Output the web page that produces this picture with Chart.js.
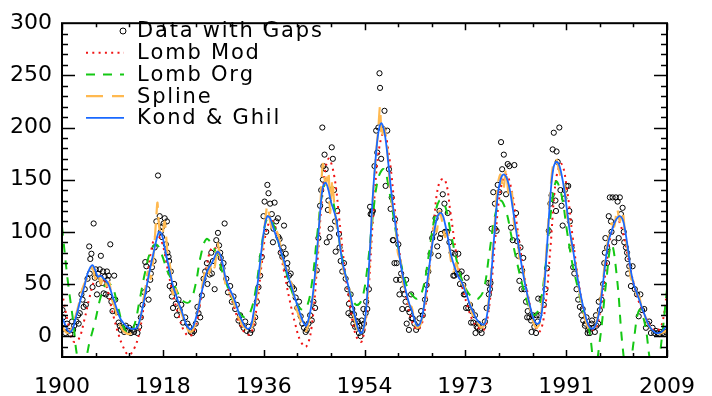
<!DOCTYPE html>
<html>
<head>
<meta charset="utf-8">
<script src="https://cdn.jsdelivr.net/npm/chart.js@4.4.1/dist/chart.umd.min.js"></script>
<style>
  html, body { margin: 0; padding: 0; background: #fff; }
  #wrap { width: 712px; height: 396px; }
</style>
</head>
<body>
<div id="wrap"><canvas id="sunChart" width="712" height="396"></canvas></div>
<script>
'use strict'

//++++++++++++++ Data ++++++++++++++//
let xTickValues = [1900, 1918.17, 1936.33, 1954.5, 1972.67, 1990.83, 2009];
let xTickLabels = ['1900', '1918', '1936', '1954', '1973', '1991', '2009'];
let yTickValues = [0, 50, 100, 150, 200, 250, 300];

let seriesNames = ['Data with Gaps', 'Lomb Mod', 'Lomb Org', 'Spline', 'Kond & Ghil'];

// observed values (year, value) with gaps
let gapPoints = [
  [1900.1,25],[1900.2,18],[1900.4,8],[1900.6,3],[1900.9,12],[1901.2,5],[1901.5,2],[1901.8,14],[1902.0,6],[1902.2,10],
  [1902.6,14],[1902.9,20],[1903.0,12],
  [1903.2,22],[1903.5,40],[1903.7,35],[1903.9,28],[1904.1,45],[1904.3,30],[1904.6,55],[1904.9,86],[1905.0,60],[1905.1,74],[1905.3,79],
  [1905.5,47],[1905.7,108],[1905.9,56],[1906.1,64],[1906.3,40],[1906.5,60],[1906.6,50],[1906.8,64],[1907.0,77],[1907.1,55],[1907.3,51],
  [1907.4,62],[1907.5,41],[1907.7,57],[1907.9,40],[1908.1,62],[1908.2,54],[1908.4,58],[1908.5,38],[1908.7,88],[1908.9,33],[1909.1,24],[1909.4,58],[1909.6,35],
  [1909.9,23],[1910.2,13],[1910.4,10],[1910.6,6],[1910.9,8],[1911.2,4],[1911.5,10],[1911.8,5],[1912.1,8],[1912.4,3],
  [1912.7,6],[1913.0,4],[1913.3,9],[1913.6,3],[1913.9,9],[1914.2,18],[1914.5,30],
  [1914.8,42],[1915.0,71],[1915.2,67],[1915.4,45],[1915.6,35],[1915.9,54],[1916.0,60],[1916.2,66],[1916.5,72],[1916.7,85],[1917.0,110],
  [1917.3,154],[1917.6,115],[1917.8,100],[1918.0,95],[1918.1,105],[1918.3,108],[1918.5,113],[1918.7,88],[1918.9,110],[1919.0,80],[1919.2,76],[1919.3,72],
  [1919.4,48],[1919.6,62],[1919.8,38],[1919.9,45],[1920.0,27],[1920.2,50],[1920.3,42],[1920.5,31],[1920.7,20],[1921.0,35],[1921.2,25],[1921.5,30],
  [1921.8,13],[1922.2,18],[1922.6,12],[1922.9,9],[1923.2,4],[1923.5,3],[1923.8,5],[1924.1,12],[1924.4,28],[1924.6,22],
  [1924.9,18],[1925.2,39],[1925.5,55],[1925.8,62],[1926.1,70],[1926.2,50],[1926.4,64],[1926.6,59],[1926.9,80],[1927.0,60],[1927.2,72],[1927.5,45],
  [1927.8,92],[1928.1,99],[1928.3,87],[1928.5,80],[1928.6,75],[1928.9,65],[1929.1,70],[1929.3,108],[1929.6,55],[1929.9,42],[1930.3,48],[1930.6,33],
  [1930.9,38],[1931.2,26],[1931.5,30],[1931.8,15],[1932.1,20],[1932.4,11],[1932.7,8],[1933.0,14],[1933.3,5],[1933.6,9],
  [1933.9,3],[1934.2,6],[1934.5,12],[1934.8,18],
  [1935.1,33],[1935.4,47],[1935.7,58],[1936.0,76],[1936.3,115],[1936.5,129],[1936.8,100],[1937.0,145],[1937.2,137],[1937.5,127],
  [1937.8,117],[1938.0,90],[1938.1,103],[1938.3,128],[1938.6,110],[1938.9,113],[1939.0,95],[1939.2,93],[1939.4,80],[1939.7,76],[1939.9,85],[1940.0,106],[1940.3,79],
  [1940.5,65],[1940.6,70],[1940.9,58],[1941.0,50],[1941.2,60],[1941.5,47],[1941.8,45],[1942.1,37],[1942.4,27],[1942.7,33],[1943.0,19],[1943.3,12],
  [1943.6,8],[1943.9,4],[1944.1,6],[1944.4,12],[1944.7,20],[1945.0,15],
  [1945.3,33],[1945.6,27],[1945.9,63],[1946.2,94],[1946.5,125],[1946.7,140],[1946.9,200],[1947.0,150],[1947.1,163],[1947.3,174],[1947.5,160],[1947.7,90],
  [1947.9,121],[1948.0,130],[1948.2,95],[1948.4,103],[1948.6,181],[1948.8,170],[1949.0,140],[1949.2,110],[1949.3,81],[1949.6,120],[1949.9,98],[1950.0,85],[1950.2,72],
  [1950.5,62],[1950.8,70],[1951.1,55],[1951.4,45],[1951.6,22],[1951.7,31],[1952.0,40],[1952.1,20],[1952.3,26],[1952.5,12],[1952.6,21],[1952.8,9],[1952.9,15],[1953.2,9],
  [1953.3,14],[1953.5,3],[1953.6,10],[1953.8,0],[1954.0,15],[1954.1,5],[1954.3,26],[1954.4,12],[1954.7,22],[1954.8,33],
  [1955.0,26],[1955.3,45],[1955.5,124],[1955.6,117],[1955.8,117],[1955.9,120],[1956.0,120],[1956.3,163],[1956.6,197],[1956.8,176],[1957.0,200],[1957.2,252],
  [1957.3,238],[1957.5,170],[1957.7,199],[1957.9,198],[1958.1,216],[1958.3,144],[1958.6,197],[1958.9,160],[1959.2,122],[1959.4,133],
  [1959.6,92],[1959.7,92],[1959.9,70],[1960.0,112],[1960.2,54],[1960.3,70],[1960.6,88],[1960.8,40],[1960.9,54],[1961.1,60],[1961.3,26],[1961.4,45],[1961.7,40],
  [1961.9,33],[1962.0,54],[1962.1,12],[1962.3,26],[1962.5,6],
  [1962.6,23],[1962.9,40],[1963.0,17],[1963.2,17],[1963.5,12],[1963.8,6],[1964.1,9],[1964.4,17],[1964.7,24],
  [1965.0,20],[1965.4,35],[1965.7,49],[1966.0,62],[1966.4,79],[1966.7,94],[1967.0,99],[1967.3,113],[1967.6,86],[1967.8,77],[1968.0,120],
  [1968.1,94],[1968.3,98],[1968.6,136],[1968.9,127],[1969.0,100],[1969.2,100],[1969.4,100],[1969.5,118],[1969.8,90],[1970.2,80],[1970.5,58],[1970.7,58],[1970.8,79],[1971.1,60],
  [1971.4,79],[1971.6,60],[1971.7,50],[1972.0,62],[1972.3,49],[1972.4,40],[1972.6,40],[1972.8,27],[1972.9,56],[1973.2,27],[1973.5,30],[1973.7,13],[1973.8,24],[1974.1,13],
  [1974.4,20],[1974.5,3],[1974.7,9],[1974.9,8],[1975.0,12],[1975.3,6],[1975.6,3],[1975.9,9],[1976.2,14],
  [1976.5,27],[1976.8,51],[1976.9,40],[1977.1,45],[1977.2,51],[1977.4,103],[1977.7,138],[1978.0,127],[1978.0,103],[1978.3,101],[1978.5,145],[1978.8,138],[1979.1,186],
  [1979.3,160],[1979.6,174],[1980.0,136],[1980.3,165],[1980.6,163],[1980.9,104],[1981.2,92],[1981.5,164],[1981.8,118],[1982.0,91],
  [1982.2,77],[1982.4,53],[1982.6,85],[1982.8,45],[1982.9,63],[1983.1,75],[1983.3,45],[1983.6,33],[1983.8,18],[1983.9,24],[1984.2,18],[1984.5,15],
  [1984.6,4],[1984.8,20],[1985.1,9],[1985.4,3],[1985.5,20],[1985.7,14],[1985.8,36],[1986.0,20],[1986.4,36],
  [1986.8,30],[1987.1,45],[1987.4,65],[1987.7,101],[1988.0,127],[1988.2,135],[1988.4,179],[1988.6,195],[1988.9,130],[1989.0,120],[1989.1,177],
  [1989.3,167],[1989.6,200],[1989.8,140],[1990.0,125],[1990.2,106],[1990.5,132],[1990.6,140],[1990.9,144],[1991.2,144],[1991.4,120],[1991.5,110],[1991.8,85],
  [1992.1,66],[1992.3,60],[1992.7,45],[1993.0,35],[1993.3,28],[1993.6,20],[1993.8,26],[1993.9,15],[1994.2,10],[1994.3,12],[1994.5,18],[1994.7,3],[1994.8,6],
  [1995.0,8],[1995.1,3],[1995.4,12],[1995.5,15],[1995.7,8],[1996.0,4],[1996.2,20],[1996.3,10],[1996.6,12],[1996.7,33],
  [1996.9,25],[1997.2,35],[1997.5,50],[1997.7,70],[1997.8,80],[1997.9,94],[1998.2,85],[1998.2,70],[1998.5,115],[1998.7,133],[1998.9,110],[1999.0,100],[1999.2,133],
  [1999.5,90],[1999.8,133],[2000.1,129],[2000.3,94],[2000.5,133],[2000.7,117],[2001.0,123],[2001.2,100],[2001.3,90],[2001.6,85],[2001.8,80],[2001.9,74],
  [2002.0,60],[2002.2,67],[2002.5,48],[2002.8,67],[2003.2,45],[2003.6,40],[2003.9,19],[2004.2,40],[2004.5,25],[2004.9,26],[2005.2,8],
  [2005.5,12],[2005.8,14],[2006.1,3],[2006.4,8],[2006.7,3],[2007.0,5],[2007.3,3],[2007.6,2],[2007.9,4],[2008.2,3],
  [2008.5,2],[2008.8,4]
];

// Lomb Mod, one value per year from 1900
let lombModValues = [
  42, 15, -5, -3, 15, 38, 55, 58, 48, 25,
  5, -10, -18, -12, 5, 40, 80, 97, 90, 65,
  40, 20, 5, 0, 8, 35, 65, 85, 82, 65,
  45, 28, 12, 3, 2, 25, 70, 105, 110, 90,
  62, 35, 12, -5, -10, 10, 70, 140, 170, 155,
  110, 62, 25, 0, -5, 30, 110, 175, 195, 170,
  120, 72, 38, 15, 6, 15, 55, 110, 148, 150,
  118, 80, 50, 30, 15, 8, 6, 30, 90, 140,
  155, 140, 105, 68, 38, 15, 4, 25, 85, 150,
  165, 140, 95, 55, 25, 10, 6, 25, 65, 100,
  112, 100, 75, 50, 32, 20, 10, 5, 10, 42
];

// Lomb Org, one value per year from 1900
let lombOrgValues = [
  105, 55, 15, -25, -25, -5, 15, 38, 50, 48,
  30, 10, 2, 10, 35, 62, 82, 88, 78, 62,
  52, 40, 33, 33, 48, 77, 93, 88, 76, 60,
  45, 32, 22, 18, 24, 48, 88, 113, 108, 90,
  70, 50, 35, 26, 27, 50, 98, 140, 150, 125,
  90, 60, 40, 30, 35, 65, 115, 152, 160, 138,
  105, 72, 50, 40, 36, 45, 75, 110, 130, 125,
  100, 75, 55, 43, 37, 36, 45, 80, 115, 130,
  120, 95, 70, 48, 30, 20, 28, 62, 115, 148,
  135, 100, 68, 45, 22, 5, -30, 0, 50, 88,
  55, -10, -45, -5, 25, 12, -25, -45, -5, 45
];

// Kond & Ghil, one value per half year from 1900
let kondGhilValues = [
  18, 12, 6, 4, 8, 18, 28, 38, 47, 58,
  65, 68, 63, 57, 58, 55, 53, 48, 40, 32,
  24, 17, 13, 10, 8, 7, 7, 8, 15, 27,
  40, 55, 68, 80, 92, 100, 97, 85, 72, 60,
  48, 40, 32, 25, 17, 10, 7, 8, 15, 25,
  38, 50, 60, 66, 70, 76, 81, 78, 68, 55,
  48, 42, 36, 28, 20, 14, 9, 7, 9, 22,
  40, 62, 85, 105, 115, 113, 105, 97, 90, 80,
  72, 62, 53, 45, 36, 28, 20, 13, 10, 18,
  32, 55, 85, 118, 143, 147, 140, 128, 120, 110,
  90, 72, 60, 50, 38, 25, 14, 5, 3, 12,
  40, 85, 135, 170, 195, 204, 198, 180, 155, 130,
  110, 90, 70, 55, 42, 32, 25, 16, 10, 12,
  22, 40, 60, 80, 98, 112, 118, 117, 108, 95,
  80, 70, 62, 56, 52, 45, 38, 30, 24, 18,
  14, 12, 11, 18, 38, 70, 105, 135, 150, 155,
  153, 145, 130, 112, 95, 78, 62, 48, 36, 25,
  16, 12, 13, 25, 55, 95, 135, 160, 167, 165,
  155, 140, 120, 100, 85, 68, 52, 38, 26, 16,
  9, 7, 9, 16, 30, 52, 75, 92, 100, 108,
  113, 115, 112, 100, 82, 62, 50, 42, 35, 27,
  20, 13, 8, 5, 3, 3, 4, 7, 10
];

// Spline (year, value)
let splinePoints = [
  [1900,10],[1900.5,5],[1901,3],[1901.5,5],[1902,12],[1902.5,20],[1903,30],[1903.5,42],[1904,50],[1904.5,55],
  [1905,62],[1905.5,66],[1906,55],[1906.5,62],[1907,50],[1907.5,58],[1908,48],[1908.5,52],[1909,35],[1909.5,28],
  [1910,16],[1910.5,10],[1911,5],[1911.5,3],[1912,2],[1912.5,3],[1913,4],[1913.5,6],[1914,14],[1914.5,30],
  [1915,45],[1915.5,62],[1916,55],[1916.5,78],[1917,115],[1917.2,128],[1917.5,105],[1918,95],[1918.5,110],[1919,80],
  [1919.5,66],[1920,40],[1920.5,45],[1921,30],[1921.5,22],[1922,15],[1922.5,8],[1923,4],[1923.5,5],[1924,12],
  [1924.5,25],[1925,40],[1925.5,55],[1926,68],[1926.5,60],[1927,72],[1927.5,66],[1928,90],[1928.5,75],[1929,70],
  [1929.5,48],[1930,42],[1930.5,40],[1931,32],[1931.5,20],[1932,16],[1932.5,10],[1933,8],[1933.5,3],[1934,6],
  [1934.5,15],[1935,35],[1935.5,55],[1936,80],[1936.5,105],[1937,125],[1937.5,110],[1938,100],[1938.5,102],[1939,96],
  [1939.5,82],[1940,68],[1940.5,64],[1941,55],[1941.5,48],[1942,30],[1942.5,22],[1943,15],[1943.5,8],[1944,5],
  [1944.5,15],[1945,30],[1945.5,50],[1946,80],[1946.5,120],[1947,165],[1947.5,145],[1948,158],[1948.3,118],[1948.7,150],
  [1949,130],[1949.5,105],[1950,92],[1950.5,70],[1951,58],[1951.5,52],[1952,36],[1952.5,20],[1953,10],[1953.5,2],
  [1954,3],[1954.5,10],[1955,35],[1955.5,80],[1956,130],[1956.5,170],[1957,200],[1957.3,220],[1957.6,190],[1958,200],
  [1958.5,185],[1959,150],[1959.5,125],[1960,115],[1960.5,80],[1961,72],[1961.5,50],[1962,42],[1962.5,30],[1963,28],
  [1963.5,14],[1964,8],[1964.5,10],[1965,20],[1965.5,38],[1966,55],[1966.5,78],[1967,105],[1967.5,100],[1968,120],
  [1968.5,110],[1969,95],[1969.5,100],[1970,75],[1970.5,62],[1971,70],[1971.5,60],[1972,50],[1972.5,48],[1973,35],
  [1973.5,33],[1974,20],[1974.5,22],[1975,12],[1975.5,8],[1976,10],[1976.5,20],[1977,40],[1977.5,75],[1978,110],
  [1978.5,145],[1979,155],[1979.5,140],[1980,160],[1980.5,135],[1981,140],[1981.5,105],[1982,100],[1982.5,70],[1983,65],
  [1983.5,48],[1984,35],[1984.5,22],[1985,12],[1985.5,8],[1986,12],[1986.5,30],[1987,60],[1987.5,100],[1988,140],
  [1988.5,165],[1989,170],[1989.5,160],[1990,150],[1990.5,145],[1991,115],[1991.5,105],[1992,80],[1992.5,70],[1993,50],
  [1993.5,35],[1994,22],[1994.5,12],[1995,6],[1995.5,5],[1996,8],[1996.5,18],[1997,35],[1997.5,55],[1998,80],
  [1998.5,95],[1999,108],[1999.5,105],[2000,122],[2000.5,110],[2001,120],[2001.5,95],[2002,80],[2002.5,55],[2003,52],
  [2003.5,40],[2004,38],[2004.5,25],[2005,20],[2005.5,12],[2006,8],[2006.5,4],[2007,2],[2007.5,2],[2008,3],
  [2008.5,4],[2009,6]
];

//++++++++++++++ Build Points ++++++++++++++//
function yearly(values, start, step) {
  return values.map((v, i) => ({ x: start + i * step, y: v }));
}

function pairs(list) {
  return list.map(p => ({ x: p[0], y: p[1] }));
}

//++++++++++++++ Styles ++++++++++++++//
let fontName = '"DejaVu Sans", sans-serif';
let redColor = 'rgb(240,20,20)';
let greenColor = 'rgb(20,200,20)';
let orangeColor = 'rgb(255,185,80)';
let blueColor = 'rgb(25,105,255)';

//++++++++++++++ Frame And Ticks Plugin ++++++++++++++//
let framePlugin = {
  id: 'idlFrame',
  afterDatasetsDraw(chart) {
    let ctx = chart.ctx;
    let area = chart.chartArea;
    let xs = chart.scales.x;
    let ys = chart.scales.y;
    ctx.save();
    ctx.strokeStyle = '#000';
    ctx.lineWidth = 2;
    ctx.strokeRect(area.left, area.top, area.right - area.left, area.bottom - area.top);
    ctx.lineWidth = 1.5;
    ctx.beginPath();
    // x ticks, 2 minor between majors
    for (let i = 0; i <= 18; i++) {
      let px = Math.round(xs.getPixelForValue(1900 + i * 109 / 18)) + 0.5;
      let len = (i % 3 === 0) ? 7 : 4;
      ctx.moveTo(px, area.bottom);
      ctx.lineTo(px, area.bottom - len);
      ctx.moveTo(px, area.top);
      ctx.lineTo(px, area.top + len);
    }
    // y ticks, every 10, major every 50
    for (let v = -10; v < 300; v += 10) {
      let py = Math.round(ys.getPixelForValue(v)) + 0.5;
      let len = (v % 50 === 0) ? 13 : 6;
      ctx.moveTo(area.left, py);
      ctx.lineTo(area.left + len, py);
      ctx.moveTo(area.right, py);
      ctx.lineTo(area.right - len, py);
    }
    ctx.stroke();
    ctx.restore();
  }
};

//++++++++++++++ Legend Plugin ++++++++++++++//
// draws text one glyph at a time so the wide IDL spacing can be kept
function spacedText(ctx, text, x, y, gap) {
  for (let ch of text) {
    ctx.fillText(ch, x, y);
    x += ctx.measureText(ch).width + gap;
  }
}

let legendPlugin = {
  id: 'idlLegend',
  afterDraw(chart) {
    let ctx = chart.ctx;
    let lineStart = 86;
    let lineEnd = 124;
    let textX = 137;
    let rowTop = 31;
    let rowStep = 21.7;
    ctx.save();
    ctx.font = '21px ' + fontName;
    ctx.fillStyle = '#000';
    ctx.textBaseline = 'middle';
    ctx.textAlign = 'left';
    seriesNames.forEach((name, i) => {
      let y = rowTop + i * rowStep;
      let ds = chart.data.datasets.find(d => d.label === name);
      if (i === 0) {
        ctx.beginPath();
        ctx.lineWidth = 1;
        ctx.strokeStyle = '#000';
        ctx.arc(lineEnd - 1, y, 3, 0, Math.PI * 2);
        ctx.stroke();
      } else {
        ctx.beginPath();
        ctx.lineWidth = ds.borderWidth;
        ctx.strokeStyle = ds.borderColor;
        ctx.setLineDash(ds.borderDash || []);
        ctx.moveTo(lineStart, y);
        ctx.lineTo(lineEnd, y);
        ctx.stroke();
        ctx.setLineDash([]);
      }
      spacedText(ctx, name, textX, y + 1, 1.8);
    });
    ctx.restore();
  }
};

//++++++++++++++ Chart ++++++++++++++//
let ctx = document.getElementById('sunChart').getContext('2d');
let sunChart = new Chart(ctx, {
  type: 'scatter',
  data: {
    datasets: [
      {
        label: 'Kond & Ghil',
        data: yearly(kondGhilValues, 1900, 0.5),
        showLine: true,
        borderColor: blueColor,
        borderWidth: 1.8,
        pointRadius: 0,
        tension: 0.4
      },
      {
        label: 'Spline',
        data: pairs(splinePoints),
        showLine: true,
        borderColor: orangeColor,
        borderWidth: 2.2,
        borderDash: [17, 9],
        pointRadius: 0,
        tension: 0.3
      },
      {
        label: 'Lomb Org',
        data: yearly(lombOrgValues, 1900, 1),
        showLine: true,
        borderColor: greenColor,
        borderWidth: 2,
        borderDash: [9, 8],
        pointRadius: 0,
        tension: 0.4
      },
      {
        label: 'Lomb Mod',
        data: yearly(lombModValues, 1900, 1),
        showLine: true,
        borderColor: redColor,
        borderWidth: 2,
        borderDash: [2, 4.3],
        pointRadius: 0,
        tension: 0.4
      },
      {
        label: 'Data with Gaps',
        data: pairs(gapPoints),
        showLine: false,
        pointStyle: 'circle',
        pointRadius: 2.6,
        pointBorderWidth: 1,
        pointBorderColor: '#000',
        pointBackgroundColor: 'rgba(0,0,0,0)'
      }
    ]
  },
  options: {
    responsive: false,
    animation: false,
    events: [],
    layout: { padding: { top: 9, right: 31, left: 0, bottom: 0 } },
    plugins: {
      legend: { display: false },
      tooltip: { enabled: false }
    },
    scales: {
      x: {
        type: 'linear',
        min: 1900,
        max: 2009,
        grid: { display: false, drawTicks: false },
        border: { display: false },
        afterBuildTicks: axis => { axis.ticks = xTickValues.map(v => ({ value: v })); },
        afterFit: axis => { axis.height = 39; },
        ticks: {
          autoSkip: false,
          maxRotation: 0,
          padding: 17,
          color: '#000',
          font: { family: fontName, size: 22 },
          callback: (value, index) => xTickLabels[index]
        }
      },
      y: {
        min: -20,
        max: 300,
        grid: { display: false, drawTicks: false },
        border: { display: false },
        afterBuildTicks: axis => { axis.ticks = yTickValues.map(v => ({ value: v })); },
        afterFit: axis => { axis.width = 62; },
        ticks: {
          padding: 10,
          color: '#000',
          font: { family: fontName, size: 22 },
          callback: value => String(value)
        }
      }
    }
  },
  plugins: [framePlugin, legendPlugin]
});
</script>
</body>
</html>
